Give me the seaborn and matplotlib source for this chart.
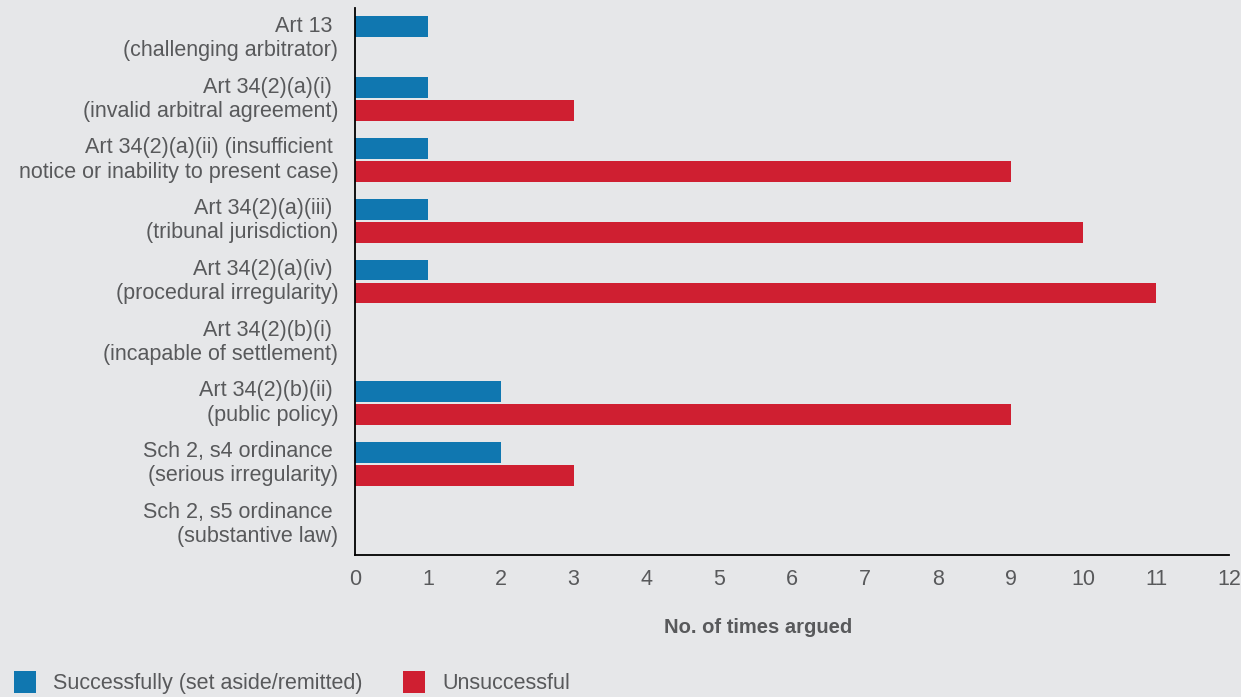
import matplotlib
matplotlib.use("Agg")
import matplotlib.pyplot as plt
from matplotlib.patches import Patch
import seaborn as sns
import pandas as pd

categories = [
    "Art 13 \n(challenging arbitrator)",
    "Art 34(2)(a)(i) \n(invalid arbitral agreement)",
    "Art 34(2)(a)(ii) (insufficient \nnotice or inability to present case)",
    "Art 34(2)(a)(iii) \n(tribunal jurisdiction)",
    "Art 34(2)(a)(iv) \n(procedural irregularity)",
    "Art 34(2)(b)(i) \n(incapable of settlement)",
    "Art 34(2)(b)(ii) \n(public policy)",
    "Sch 2, s4 ordinance \n(serious irregularity)",
    "Sch 2, s5 ordinance \n(substantive law)",
]
successful = [1, 1, 1, 1, 1, 0, 2, 2, 0]
unsuccessful = [0, 3, 9, 10, 11, 0, 9, 3, 0]
series_names = ["Successfully (set aside/remitted)", "Unsuccessful"]
x_ticks = list(range(0, 13))

BG = "#e6e7e9"
TXT = "#58595b"
colors = ["#1077b0", "#cf1f31"]

sns.set_theme(style="white")
plt.rcParams["font.family"] = ["Liberation Sans", "DejaVu Sans"]

df = pd.DataFrame({
    "category": categories * 2,
    "value": successful + unsuccessful,
    "series": [series_names[0]] * len(categories) + [series_names[1]] * len(categories),
})

fig = plt.figure(figsize=(12.41, 6.97), dpi=100, facecolor=BG)
ax = fig.add_axes([355 / 1241, 1 - 555 / 697, (1229 - 355) / 1241, (555 - 8) / 697])
ax.set_facecolor(BG)

sns.barplot(data=df, y="category", x="value", hue="series", orient="h",
            palette=colors, order=categories, hue_order=series_names,
            width=0.76, gap=0.1, ax=ax, legend=False, saturation=1, linewidth=0)

FS = 15.5
ax.set_xlim(0, 12)
ax.set_ylim(8.5, -0.5)
ax.set_xticks(x_ticks)
ax.set_xticklabels([str(t) for t in x_ticks])
ax.set_ylabel("")
ax.set_xlabel("No. of times argued", fontsize=14.5, color=TXT, fontweight="bold")
ax.xaxis.set_label_coords((758 - 355) / 874, -0.115)
ax.tick_params(axis="x", length=0, pad=10, labelsize=FS, labelcolor=TXT)
ax.tick_params(axis="y", length=0, pad=12, labelsize=FS, labelcolor=TXT)
for lbl in ax.get_yticklabels():
    lbl.set_linespacing(1.2)
    lbl.set_verticalalignment("center")

for s in ["top", "right"]:
    ax.spines[s].set_visible(False)
for s in ["left", "bottom"]:
    ax.spines[s].set_color("black")
    ax.spines[s].set_linewidth(1.3)
ax.grid(False)

handles = [Patch(facecolor=c, edgecolor="none") for c in colors]
fig.legend(handles, series_names, loc="lower left", bbox_to_anchor=(14 / 1241, 3 / 697),
           ncol=2, frameon=False, fontsize=FS, labelcolor=TXT,
           borderaxespad=0.0, borderpad=0.0,
           handlelength=1.0, handleheight=1.2, handletextpad=0.8, columnspacing=1.9)

fig.savefig("out.png", dpi=100, facecolor=BG)
